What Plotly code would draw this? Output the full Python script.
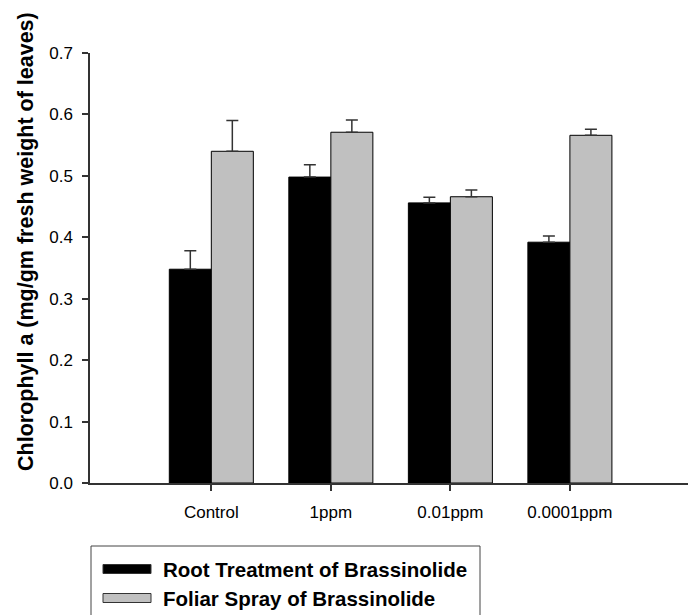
import plotly.graph_objects as go

categories = ["Control", "1ppm", "0.01ppm", "0.0001ppm"]
root_values = [0.348, 0.498, 0.456, 0.392]
root_errors = [0.030, 0.020, 0.009, 0.010]
foliar_values = [0.540, 0.571, 0.466, 0.566]
foliar_errors = [0.050, 0.020, 0.011, 0.010]
series_names = ["Root Treatment of Brassinolide", "Foliar Spray of Brassinolide"]
series_colors = ["#000000", "#c0c0c0"]
y_title = "Chlorophyll a (mg/gm fresh weight of leaves)"

# page body has an 8px margin, so the figure is sized to fit the window
OFF = 8
W, H = 696 - OFF, 615 - OFF
L, R, T = 82, 0, 45
PH = 430
B = H - T - PH
PW = W - L - R


def px_x(p):  # screen pixel -> paper
    return (p - OFF - L) / PW


def px_y(p):
    return (H - B - (p - OFF)) / PH


fig = go.Figure()
for name, vals, errs, col in [
    (series_names[0], root_values, root_errors, series_colors[0]),
    (series_names[1], foliar_values, foliar_errors, series_colors[1]),
]:
    fig.add_trace(go.Bar(
        x=categories, y=vals, name=name,
        marker=dict(color=col, line=dict(color="#000000", width=1)),
        error_y=dict(type="data", array=errs, arrayminus=[0] * len(errs),
                     symmetric=False, color="#333333", thickness=1.5, width=6),
        showlegend=False,
    ))

fig.update_layout(
    width=W, height=H,
    margin=dict(l=L, r=R, t=T, b=B, autoexpand=False),
    paper_bgcolor="white", plot_bgcolor="white",
    barmode="group", bargap=0.297, bargroupgap=0,
    font=dict(family="Liberation Sans, Arial, sans-serif", color="#000000"),
)
fig.update_xaxes(
    type="category", range=[-1.015, 4.055], automargin=False,
    showline=True, linecolor="#333333", linewidth=1.5,
    ticks="outside", ticklen=6, tickcolor="#333333", tickwidth=1.5,
    tickfont=dict(size=17), showgrid=False, zeroline=False,
    ticklabelstandoff=7,
)
fig.update_yaxes(
    range=[0, 0.7], dtick=0.1, tickformat=".1f", automargin=False,
    showline=True, linecolor="#333333", linewidth=1.5,
    ticks="outside", ticklen=6, tickcolor="#333333", tickwidth=1.5,
    tickfont=dict(size=17), showgrid=False, zeroline=False,
    ticklabelstandoff=6,
)

# y-axis title
fig.add_annotation(
    text="<b>" + y_title + "</b>", xref="paper", yref="paper",
    x=px_x(26), y=px_y(242), xanchor="center", yanchor="middle",
    textangle=-90, showarrow=False, font=dict(size=21.5, color="#000000"),
)

# custom legend
fig.add_shape(type="rect", xref="paper", yref="paper",
              x0=px_x(91), x1=px_x(480), y0=px_y(630), y1=px_y(546),
              line=dict(color="#444444", width=1), fillcolor="white")
rows = [569, 598]
for name, col, cy in zip(series_names, series_colors, rows):
    fig.add_shape(type="rect", xref="paper", yref="paper",
                  x0=px_x(103), x1=px_x(151), y0=px_y(cy + 4.5), y1=px_y(cy - 4.5),
                  line=dict(color="#333333", width=1), fillcolor=col)
    fig.add_annotation(text="<b>" + name + "</b>", xref="paper", yref="paper",
                       x=px_x(161), y=px_y(cy), xanchor="left", yanchor="middle",
                       showarrow=False, font=dict(size=20.5, color="#000000"))

fig.write_html("out.html")
